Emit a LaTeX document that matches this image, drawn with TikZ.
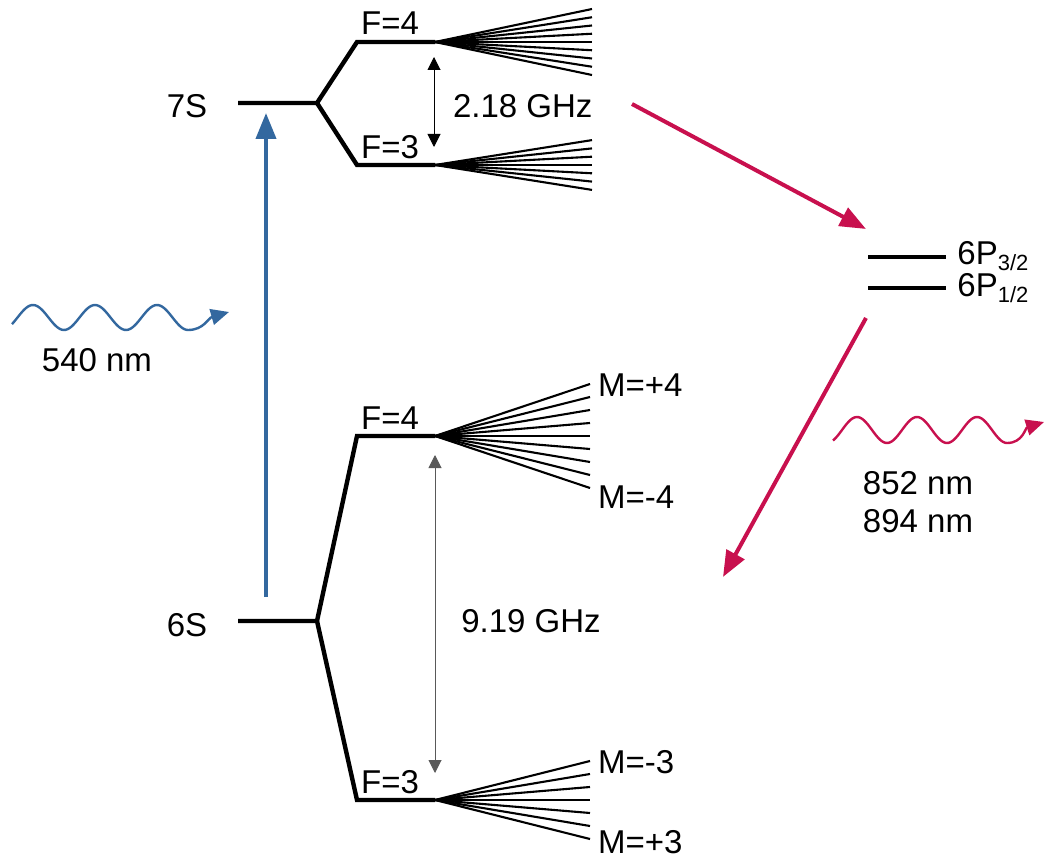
\documentclass[tikz,border=0pt]{standalone}
\usepackage{fontspec}
\setmainfont{Liberation Sans}
\usepackage{xcolor}
\definecolor{pump}{HTML}{33689F}
\definecolor{decay}{HTML}{C8104E}
\usetikzlibrary{arrows.meta}
\newcommand{\jsub}[1]{\raisebox{-0.35ex}{\fontsize{11}{12}\selectfont #1}}

\begin{document}
\begin{tikzpicture}[
  x=0.5pt, y=-0.5pt,
  font=\fontsize{16.5}{19}\selectfont,
  level/.style={line width=2.2pt},
  subline/.style={line width=1.05pt},
  split/.style={line width=0.5pt, {Triangle[length=6.5pt,width=6.5pt]}-{Triangle[length=6.5pt,width=6.5pt]}},
  beam/.style={line width=2pt, -{Triangle[length=13pt,width=10pt]}},
  photon/.style={line width=1.2pt, -{Triangle[length=9pt,width=8pt]}},
]
\useasboundingbox (0,0) rectangle (1045,866);

% 7S level and its hyperfine splitting
\coordinate (s7in) at (238,103);
\coordinate (s7fork) at (317,103);
\coordinate (s7f4) at (357,42);
\coordinate (s7f4end) at (435,42);
\coordinate (s7f3) at (357,165);
\coordinate (s7f3end) at (435,165);
\draw[level] (s7in) -- (s7fork) -- (s7f4) -- (s7f4end);
\draw[level] (s7fork) -- (s7f3) -- (s7f3end);
\node (lab7s) at (187,106) {7S};
\node (lab7f4) at (390,23) {F=4};
\node (lab7f3) at (390,147) {F=3};
\foreach \m in {-4,...,4}
  \draw[subline] (s7f4end) -- (592,42+8.25*\m);
\foreach \m in {-3,...,3}
  \draw[subline] (s7f3end) -- (592,165+8.3*\m);
\coordinate (gap7top) at (434,57);
\coordinate (gap7bot) at (434,147);
\draw[split] (gap7top) -- (gap7bot);
\node[anchor=west] (gap7) at (446,106) {2.18 GHz};

% 6S ground level and its hyperfine splitting
\coordinate (s6in) at (238,621);
\coordinate (s6fork) at (317,621);
\coordinate (s6f4) at (357,436);
\coordinate (s6f4end) at (435,436);
\coordinate (s6f3) at (357,800);
\coordinate (s6f3end) at (435,800);
\draw[level] (s6in) -- (s6fork) -- (s6f4) -- (s6f4end);
\draw[level] (s6fork) -- (s6f3) -- (s6f3end);
\node (lab6s) at (187,625) {6S};
\node (lab6f4) at (390,418) {F=4};
\node (lab6f3) at (390,782) {F=3};
\foreach \m in {-4,...,4}
  \draw[subline] (s6f4end) -- (590,436+13*\m);
\foreach \m in {-3,...,3}
  \draw[subline] (s6f3end) -- (590,800+13*\m);
\node[anchor=west] (m4up) at (591,385) {M=+4};
\node[anchor=west] (m4dn) at (591,497) {M=-4};
\node[anchor=west] (m3dn) at (591,762) {M=-3};
\node[anchor=west] (m3up) at (591,842) {M=+3};
\coordinate (gap6top) at (435,455);
\coordinate (gap6bot) at (435,773);
\draw[split, black!65] (gap6top) -- (gap6bot);
\node (gap6) at (531,621) {9.19 GHz};

% 6P levels
\coordinate (p32a) at (868,257);
\coordinate (p32b) at (946,257);
\coordinate (p12a) at (868,288);
\coordinate (p12b) at (946,288);
\draw[level] (p32a) -- (p32b);
\draw[level] (p12a) -- (p12b);
\node[anchor=west, inner sep=2pt] (lab32) at (953,256) {6P\jsub{3/2}};
\node[anchor=west, inner sep=2pt] (lab12) at (953,288) {6P\jsub{1/2}};

% transitions
\coordinate (pumpfrom) at (266,597);
\coordinate (pumpto) at (266,113);
\draw[beam, pump] (pumpfrom) -- (pumpto);
\coordinate (cas1from) at (632,104);
\coordinate (cas1to) at (866,229);
\draw[beam, decay] (cas1from) -- (cas1to);
\coordinate (cas2from) at (866,318);
\coordinate (cas2to) at (723,577);
\draw[beam, decay] (cas2from) -- (cas2to);

% photons
\coordinate (w540b) at (229,312);
\draw[photon, pump] plot[domain=-21:155, samples=90, smooth]
  ({33+\x}, {317.5-12.5*cos(5.806*\x)})
  .. controls (204,330) and (208,318) .. (w540b);
\node (lab540) at (97,360) {540 nm};
\coordinate (wflub) at (1044,422);
\draw[photon, decay] plot[domain=-24:150, samples=90, smooth]
  ({857+\x}, {430-13*cos(6*\x)})
  .. controls (1023,443) and (1025,428) .. (wflub);
\node[align=left] (labflu) at (918,502) {852 nm\\[0pt]894 nm};
\end{tikzpicture}
\end{document}
